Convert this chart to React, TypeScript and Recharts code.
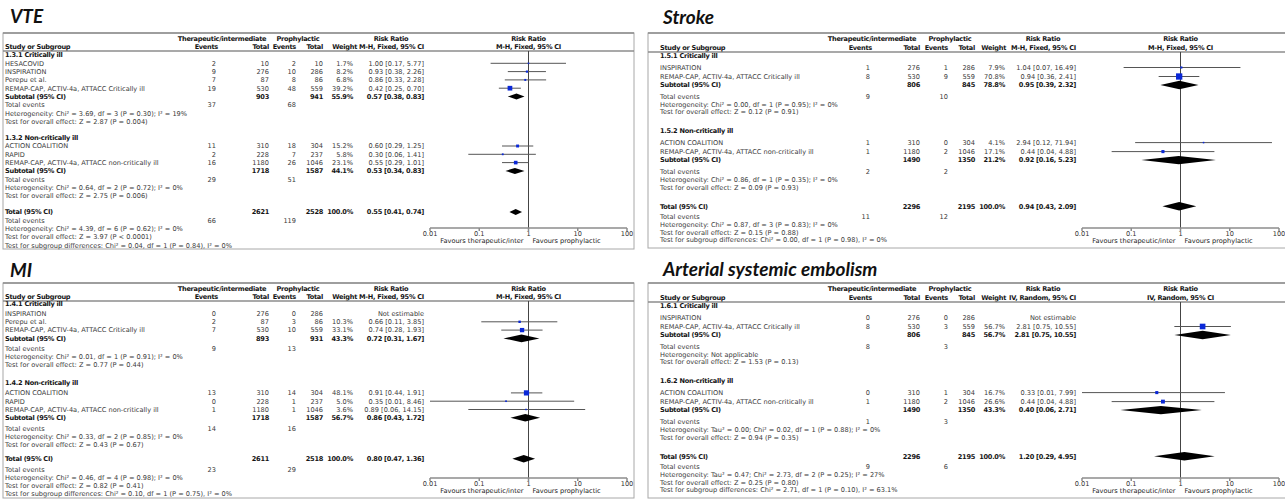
import { ScatterChart, Scatter, XAxis, YAxis, ErrorBar, ReferenceLine } from "recharts";

type Study = {
  name: string;
  e1: number;
  n1: number;
  e2: number;
  n2: number;
  weight: number | null;
  rr: number | null;
  lo: number | null;
  hi: number | null;
};
type Pooled = { n1: number; n2: number; weight: number; rr: number; lo: number; hi: number };

const FONT = "'DejaVu Sans', sans-serif";
const TITLE_FONT = "Lato, 'Open Sans', sans-serif";
const BLUE = "#0a28d8";
const TICKS = [0.01, 0.1, 1, 10, 100];

// ---- VTE ----
const VTE_GROUPS = ["1.3.1 Critically ill", "1.3.2 Non-critically ill"];
const VTE_CRIT: Study[] = [
  { name: "HESACOVID", e1: 2, n1: 10, e2: 2, n2: 10, weight: 1.7, rr: 1.0, lo: 0.17, hi: 5.77 },
  { name: "INSPIRATION", e1: 9, n1: 276, e2: 10, n2: 286, weight: 8.2, rr: 0.93, lo: 0.38, hi: 2.26 },
  { name: "Perepu et al.", e1: 7, n1: 87, e2: 8, n2: 86, weight: 6.8, rr: 0.86, lo: 0.33, hi: 2.28 },
  { name: "REMAP-CAP, ACTIV-4a, ATTACC Critically ill", e1: 19, n1: 530, e2: 48, n2: 559, weight: 39.2, rr: 0.42, lo: 0.25, hi: 0.7 },
];
const VTE_NONCRIT: Study[] = [
  { name: "ACTION COALITION", e1: 11, n1: 310, e2: 18, n2: 304, weight: 15.2, rr: 0.6, lo: 0.29, hi: 1.25 },
  { name: "RAPID", e1: 2, n1: 228, e2: 7, n2: 237, weight: 5.8, rr: 0.3, lo: 0.06, hi: 1.41 },
  { name: "REMAP-CAP, ACTIV-4a, ATTACC non-critically ill", e1: 16, n1: 1180, e2: 26, n2: 1046, weight: 23.1, rr: 0.55, lo: 0.29, hi: 1.01 },
];
const VTE_SUBS: Pooled[] = [
  { n1: 903, n2: 941, weight: 55.9, rr: 0.57, lo: 0.38, hi: 0.83 },
  { n1: 1718, n2: 1587, weight: 44.1, rr: 0.53, lo: 0.34, hi: 0.83 },
];
const VTE_TOTAL: Pooled = { n1: 2621, n2: 2528, weight: 100, rr: 0.55, lo: 0.41, hi: 0.74 };
const VTE_EVENTS = [[37, 68], [29, 51], [66, 119]];
const VTE_HET = [
  "Heterogeneity: Chi² = 3.69, df = 3 (P = 0.30); I² = 19%",
  "Heterogeneity: Chi² = 0.64, df = 2 (P = 0.72); I² = 0%",
  "Heterogeneity: Chi² = 4.39, df = 6 (P = 0.62); I² = 0%",
];
const VTE_TESTS = [
  "Test for overall effect: Z = 2.87 (P = 0.004)",
  "Test for overall effect: Z = 2.75 (P = 0.006)",
  "Test for overall effect: Z = 3.97 (P < 0.0001)",
];
const VTE_SUBGROUP = "Test for subgroup differences: Chi² = 0.04, df = 1 (P = 0.84), I² = 0%";

// ---- Stroke ----
const STROKE_GROUPS = ["1.5.1 Critically ill", "1.5.2 Non-critically ill"];
const STROKE_CRIT: Study[] = [
  { name: "INSPIRATION", e1: 1, n1: 276, e2: 1, n2: 286, weight: 7.9, rr: 1.04, lo: 0.07, hi: 16.49 },
  { name: "REMAP-CAP, ACTIV-4a, ATTACC Critically ill", e1: 8, n1: 530, e2: 9, n2: 559, weight: 70.8, rr: 0.94, lo: 0.36, hi: 2.41 },
];
const STROKE_NONCRIT: Study[] = [
  { name: "ACTION COALITION", e1: 1, n1: 310, e2: 0, n2: 304, weight: 4.1, rr: 2.94, lo: 0.12, hi: 71.94 },
  { name: "REMAP-CAP, ACTIV-4a, ATTACC non-critically ill", e1: 1, n1: 1180, e2: 2, n2: 1046, weight: 17.1, rr: 0.44, lo: 0.04, hi: 4.88 },
];
const STROKE_SUBS: Pooled[] = [
  { n1: 806, n2: 845, weight: 78.8, rr: 0.95, lo: 0.39, hi: 2.32 },
  { n1: 1490, n2: 1350, weight: 21.2, rr: 0.92, lo: 0.16, hi: 5.23 },
];
const STROKE_TOTAL: Pooled = { n1: 2296, n2: 2195, weight: 100, rr: 0.94, lo: 0.43, hi: 2.09 };
const STROKE_EVENTS = [[9, 10], [2, 2], [11, 12]];
const STROKE_HET = [
  "Heterogeneity: Chi² = 0.00, df = 1 (P = 0.95); I² = 0%",
  "Heterogeneity: Chi² = 0.86, df = 1 (P = 0.35); I² = 0%",
  "Heterogeneity: Chi² = 0.87, df = 3 (P = 0.83); I² = 0%",
];
const STROKE_TESTS = [
  "Test for overall effect: Z = 0.12 (P = 0.91)",
  "Test for overall effect: Z = 0.09 (P = 0.93)",
  "Test for overall effect: Z = 0.15 (P = 0.88)",
];
const STROKE_SUBGROUP = "Test for subgroup differences: Chi² = 0.00, df = 1 (P = 0.98), I² = 0%";

// ---- MI ----
const MI_GROUPS = ["1.4.1 Critically ill", "1.4.2 Non-critically ill"];
const MI_CRIT: Study[] = [
  { name: "INSPIRATION", e1: 0, n1: 276, e2: 0, n2: 286, weight: null, rr: null, lo: null, hi: null },
  { name: "Perepu et al.", e1: 2, n1: 87, e2: 3, n2: 86, weight: 10.3, rr: 0.66, lo: 0.11, hi: 3.85 },
  { name: "REMAP-CAP, ACTIV-4a, ATTACC Critically ill", e1: 7, n1: 530, e2: 10, n2: 559, weight: 33.1, rr: 0.74, lo: 0.28, hi: 1.93 },
];
const MI_NONCRIT: Study[] = [
  { name: "ACTION COALITION", e1: 13, n1: 310, e2: 14, n2: 304, weight: 48.1, rr: 0.91, lo: 0.44, hi: 1.91 },
  { name: "RAPID", e1: 0, n1: 228, e2: 1, n2: 237, weight: 5.0, rr: 0.35, lo: 0.01, hi: 8.46 },
  { name: "REMAP-CAP, ACTIV-4a, ATTACC non-critically ill", e1: 1, n1: 1180, e2: 1, n2: 1046, weight: 3.6, rr: 0.89, lo: 0.06, hi: 14.15 },
];
const MI_SUBS: Pooled[] = [
  { n1: 893, n2: 931, weight: 43.3, rr: 0.72, lo: 0.31, hi: 1.67 },
  { n1: 1718, n2: 1587, weight: 56.7, rr: 0.86, lo: 0.43, hi: 1.72 },
];
const MI_TOTAL: Pooled = { n1: 2611, n2: 2518, weight: 100, rr: 0.8, lo: 0.47, hi: 1.36 };
const MI_EVENTS = [[9, 13], [14, 16], [23, 29]];
const MI_HET = [
  "Heterogeneity: Chi² = 0.01, df = 1 (P = 0.91); I² = 0%",
  "Heterogeneity: Chi² = 0.33, df = 2 (P = 0.85); I² = 0%",
  "Heterogeneity: Chi² = 0.46, df = 4 (P = 0.98); I² = 0%",
];
const MI_TESTS = [
  "Test for overall effect: Z = 0.77 (P = 0.44)",
  "Test for overall effect: Z = 0.43 (P = 0.67)",
  "Test for overall effect: Z = 0.82 (P = 0.41)",
];
const MI_SUBGROUP = "Test for subgroup differences: Chi² = 0.10, df = 1 (P = 0.75), I² = 0%";

// ---- Arterial systemic embolism ----
const ASE_GROUPS = ["1.6.1 Critically ill", "1.6.2 Non-critically ill"];
const ASE_CRIT: Study[] = [
  { name: "INSPIRATION", e1: 0, n1: 276, e2: 0, n2: 286, weight: null, rr: null, lo: null, hi: null },
  { name: "REMAP-CAP, ACTIV-4a, ATTACC Critically ill", e1: 8, n1: 530, e2: 3, n2: 559, weight: 56.7, rr: 2.81, lo: 0.75, hi: 10.55 },
];
const ASE_NONCRIT: Study[] = [
  { name: "ACTION COALITION", e1: 0, n1: 310, e2: 1, n2: 304, weight: 16.7, rr: 0.33, lo: 0.01, hi: 7.99 },
  { name: "REMAP-CAP, ACTIV-4a, ATTACC non-critically ill", e1: 1, n1: 1180, e2: 2, n2: 1046, weight: 26.6, rr: 0.44, lo: 0.04, hi: 4.88 },
];
const ASE_SUBS: Pooled[] = [
  { n1: 806, n2: 845, weight: 56.7, rr: 2.81, lo: 0.75, hi: 10.55 },
  { n1: 1490, n2: 1350, weight: 43.3, rr: 0.4, lo: 0.06, hi: 2.71 },
];
const ASE_TOTAL: Pooled = { n1: 2296, n2: 2195, weight: 100, rr: 1.2, lo: 0.29, hi: 4.95 };
const ASE_EVENTS = [[8, 3], [1, 3], [9, 6]];
const ASE_HET = [
  "Heterogeneity: Not applicable",
  "Heterogeneity: Tau² = 0.00; Chi² = 0.02, df = 1 (P = 0.88); I² = 0%",
  "Heterogeneity: Tau² = 0.47; Chi² = 2.73, df = 2 (P = 0.25); I² = 27%",
];
const ASE_TESTS = [
  "Test for overall effect: Z = 1.53 (P = 0.13)",
  "Test for overall effect: Z = 0.94 (P = 0.35)",
  "Test for overall effect: Z = 0.25 (P = 0.80)",
];
const ASE_SUBGROUP = "Test for subgroup differences: Chi² = 2.71, df = 1 (P = 0.10), I² = 63.1%";

type PanelData = {
  title: string;
  method: string;
  groups: string[];
  studies: Study[][];
  subs: Pooled[];
  total: Pooled;
  events: number[][];
  het: string[];
  tests: string[];
  subgroup: string;
};

const VTE: PanelData = { title: "VTE", method: "M-H, Fixed, 95% CI", groups: VTE_GROUPS, studies: [VTE_CRIT, VTE_NONCRIT], subs: VTE_SUBS, total: VTE_TOTAL, events: VTE_EVENTS, het: VTE_HET, tests: VTE_TESTS, subgroup: VTE_SUBGROUP };
const STROKE: PanelData = { title: "Stroke", method: "M-H, Fixed, 95% CI", groups: STROKE_GROUPS, studies: [STROKE_CRIT, STROKE_NONCRIT], subs: STROKE_SUBS, total: STROKE_TOTAL, events: STROKE_EVENTS, het: STROKE_HET, tests: STROKE_TESTS, subgroup: STROKE_SUBGROUP };
const MI: PanelData = { title: "MI", method: "M-H, Fixed, 95% CI", groups: MI_GROUPS, studies: [MI_CRIT, MI_NONCRIT], subs: MI_SUBS, total: MI_TOTAL, events: MI_EVENTS, het: MI_HET, tests: MI_TESTS, subgroup: MI_SUBGROUP };
const ASE: PanelData = { title: "Arterial systemic embolism", method: "IV, Random, 95% CI", groups: ASE_GROUPS, studies: [ASE_CRIT, ASE_NONCRIT], subs: ASE_SUBS, total: ASE_TOTAL, events: ASE_EVENTS, het: ASE_HET, tests: ASE_TESTS, subgroup: ASE_SUBGROUP };

// layout
const COLS_A = { name: 5, e1: 216, n1: 269, e2: 296, n2: 323, w: 353, rr: 424, hE1: 218, hE2: 296, hW: 357, rrC: 391, therC: 222, prophC: 298, plotL: 430, plotR: 627 };
const COLS_B = { name: 15, e1: 225, n1: 275, e2: 303, n2: 330, w: 360, rr: 431, hE1: 227, hE2: 303, hW: 361, rrC: 398, therC: 227, prophC: 305, plotL: 437, plotR: 634 };

const GAPS_VTE = { start: 55, labelStudy: 8.3, pitch: 8.3, studySub: 8.3, subTe: 8.5, totTe: 8.5, text: 8.2, blank: 16.3, blank2: 16.3 };
const GAPS_MI = { start: 53.5, labelStudy: 10, pitch: 8.3, studySub: 8.3, subTe: 10.5, totTe: 10.5, text: 8, blank: 18, blank2: 14.5 };
const GAPS_B = { start: 56, labelStudy: 11.5, pitch: 9, studySub: 8.5, subTe: 11.5, totTe: 10.5, text: 7.8, blank: 19, blank2: 19 };

const FRAME_VTE = { top: 33, sep: 51, bottom: 249, left: 3, right: 634, head1: 38.5, head2: 46.5, titleX: 10, titleBase: 23, dh: 3 };
const FRAME_MI = { top: 33, sep: 51, bottom: 248, left: 3, right: 634, head1: 39, head2: 47, titleX: 10, titleBase: 27, dh: 3.8 };
const FRAME_STROKE = { top: 33, sep: 52, bottom: 248, left: 3, right: 720, head1: 39, head2: 48, titleX: 18, titleBase: 24, dh: 4.2 };
const FRAME_ASE = { ...FRAME_STROKE, titleBase: 26 };
const AXIS_Y = 228;

type Kind = "label" | "study" | "sub" | "te" | "text" | "total";
type Row = { kind: Kind; y: number; text?: string; study?: Study; pooled?: Pooled; events?: number[] };

function buildRows(p: PanelData, g: typeof GAPS_VTE): Row[] {
  const rows: Row[] = [];
  let y = g.start;
  let prev: Kind | null = null;
  const push = (kind: Kind, extra: Partial<Row>) => {
    if (prev) {
      if (kind === "study") y += prev === "label" ? g.labelStudy : g.pitch;
      else if (kind === "sub") y += g.studySub;
      else if (kind === "te") y += prev === "total" ? g.totTe : g.subTe;
      else if (kind === "text") y += g.text;
      else if (kind === "label") y += g.blank;
      else if (kind === "total") y += g.blank2;
    }
    rows.push({ kind, y, ...extra });
    prev = kind;
  };
  p.groups.forEach((label, gi) => {
    push("label", { text: label });
    p.studies[gi].forEach((s) => push("study", { study: s }));
    push("sub", { pooled: p.subs[gi] });
    push("te", { events: p.events[gi] });
    push("text", { text: p.het[gi] });
    push("text", { text: p.tests[gi] });
  });
  push("total", { pooled: p.total });
  push("te", { events: p.events[2] });
  push("text", { text: p.het[2] });
  push("text", { text: p.tests[2] });
  push("text", { text: p.subgroup });
  return rows;
}

const fmtW = (w: number) => `${w.toFixed(1)}%`;
const fmtRR = (r: number, lo: number, hi: number) => `${r.toFixed(2)} [${lo.toFixed(2)}, ${hi.toFixed(2)}]`;

function T({ x, y, anchor = "start", bold = false, children }: { x: number; y: number; anchor?: "start" | "middle" | "end"; bold?: boolean; children: any }) {
  return (
    <text
      x={x}
      y={y + 2.3}
      textAnchor={anchor}
      fontFamily={FONT}
      fontSize={6.6}
      fontWeight={bold ? 700 : 400}
      letterSpacing={bold ? -0.28 : 0}
      fill={bold ? "#151515" : "#3a3a3a"}
    >
      {children}
    </text>
  );
}

const Square = (p: any) => {
  const s = Math.max(1.5, 0.75 * Math.sqrt(p.payload.w));
  return <rect x={p.cx - s / 2} y={p.cy - s / 2} width={s} height={s} fill={BLUE} />;
};
const Nothing = () => <g />;
const diamondLine = (p: any) => (
  <polygon points={(p.points || []).map((q: any) => `${q.x},${q.y}`).join(" ")} fill="#000" stroke="none" />
);
const favours = (p: any) => {
  const vb = p.viewBox;
  if (!vb) return <g />;
  const y = vb.y + vb.height + 14.5;
  return (
    <g fontFamily={FONT} fontSize={6.6} fill="#222">
      <text x={vb.x - 5} y={y} textAnchor="end">Favours therapeutic/inter</text>
      <text x={vb.x + 4} y={y} textAnchor="start">Favours prophylactic</text>
    </g>
  );
};

function Panel({ data, cols, gaps, frame, ox, oy, w }: { data: PanelData; cols: typeof COLS_A; gaps: typeof GAPS_VTE; frame: typeof FRAME_VTE; ox: number; oy: number; w: number }) {
  const rows = buildRows(data, gaps);
  const c = cols;
  const plotH = AXIS_Y - frame.sep;
  const ML = 20;
  const studyPts = rows
    .filter((r) => r.kind === "study" && r.study!.rr != null)
    .map((r) => {
      const s = r.study!;
      return { x: s.rr!, y: r.y - frame.sep, w: s.weight!, err: [s.rr! - s.lo!, s.hi! - s.rr!] };
    });
  const diamonds = rows
    .filter((r) => r.kind === "sub" || r.kind === "total")
    .map((r) => {
      const q = r.pooled!;
      const yy = r.y - frame.sep;
      return [
        { x: q.lo, y: yy },
        { x: q.rr, y: yy - frame.dh },
        { x: q.hi, y: yy },
        { x: q.rr, y: yy + frame.dh },
      ];
    });

  return (
    <div style={{ position: "absolute", left: ox, top: oy, width: w, height: 250, overflow: "hidden" }}>
      <svg width={w} height={250} style={{ position: "absolute", left: 0, top: 0 }}>
        <text x={frame.titleX} y={frame.titleBase} fontFamily={TITLE_FONT} fontSize={19} fontWeight={700} fontStyle="italic" fill="#111">
          {data.title}
        </text>
        <rect x={frame.left} y={frame.top} width={frame.right - frame.left} height={frame.bottom - frame.top} fill="none" stroke="#a8a8a8" strokeWidth={1} />
        <line x1={frame.left} x2={frame.right} y1={frame.top} y2={frame.top} stroke="#8c8c8c" strokeWidth={1.5} />
        <line x1={frame.left} x2={frame.right} y1={frame.sep} y2={frame.sep} stroke="#8c8c8c" strokeWidth={1.5} />

        <T x={c.therC} y={frame.head1} anchor="middle" bold>Therapeutic/intermediate</T>
        <T x={c.prophC} y={frame.head1} anchor="middle" bold>Prophylactic</T>
        <T x={c.rrC} y={frame.head1} anchor="middle" bold>Risk Ratio</T>
        <T x={(c.plotL + c.plotR) / 2} y={frame.head1} anchor="middle" bold>Risk Ratio</T>
        <T x={c.name} y={frame.head2} bold>Study or Subgroup</T>
        <T x={c.hE1} y={frame.head2} anchor="end" bold>Events</T>
        <T x={c.n1} y={frame.head2} anchor="end" bold>Total</T>
        <T x={c.hE2} y={frame.head2} anchor="end" bold>Events</T>
        <T x={c.n2} y={frame.head2} anchor="end" bold>Total</T>
        <T x={c.hW} y={frame.head2} anchor="end" bold>Weight</T>
        <T x={c.rr} y={frame.head2} anchor="end" bold>{data.method}</T>
        <T x={(c.plotL + c.plotR) / 2} y={frame.head2} anchor="middle" bold>{data.method}</T>

        {rows.map((r, i) => {
          if (r.kind === "label") return <T key={i} x={c.name} y={r.y} bold>{r.text}</T>;
          if (r.kind === "text") return <T key={i} x={c.name} y={r.y}>{r.text}</T>;
          if (r.kind === "te")
            return (
              <g key={i}>
                <T x={c.name} y={r.y}>Total events</T>
                <T x={c.e1} y={r.y} anchor="end">{r.events![0]}</T>
                <T x={c.e2} y={r.y} anchor="end">{r.events![1]}</T>
              </g>
            );
          if (r.kind === "study") {
            const s = r.study!;
            return (
              <g key={i}>
                <T x={c.name} y={r.y}>{s.name}</T>
                <T x={c.e1} y={r.y} anchor="end">{s.e1}</T>
                <T x={c.n1} y={r.y} anchor="end">{s.n1}</T>
                <T x={c.e2} y={r.y} anchor="end">{s.e2}</T>
                <T x={c.n2} y={r.y} anchor="end">{s.n2}</T>
                {s.weight != null && <T x={c.w} y={r.y} anchor="end">{fmtW(s.weight)}</T>}
                <T x={c.rr} y={r.y} anchor="end">{s.rr != null ? fmtRR(s.rr, s.lo!, s.hi!) : "Not estimable"}</T>
              </g>
            );
          }
          const q = r.pooled!;
          return (
            <g key={i}>
              <T x={c.name} y={r.y} bold>{r.kind === "sub" ? "Subtotal (95% CI)" : "Total (95% CI)"}</T>
              <T x={c.n1} y={r.y} anchor="end" bold>{q.n1}</T>
              <T x={c.n2} y={r.y} anchor="end" bold>{q.n2}</T>
              <T x={c.w} y={r.y} anchor="end" bold>{fmtW(q.weight)}</T>
              <T x={c.rr} y={r.y} anchor="end" bold>{fmtRR(q.rr, q.lo, q.hi)}</T>
            </g>
          );
        })}
      </svg>

      <div style={{ position: "absolute", left: c.plotL - ML, top: frame.sep }}>
        <ScatterChart width={c.plotR - c.plotL + 2 * ML} height={plotH + 20} margin={{ top: 0, right: ML, bottom: 0, left: ML }}>
          <XAxis
            type="number"
            dataKey="x"
            scale="log"
            domain={[0.01, 100]}
            ticks={TICKS}
            allowDataOverflow
            height={20}
            tickSize={3}
            tickMargin={0}
            interval={0}
            stroke="#8c8c8c"
            strokeWidth={1.5}
            tick={{ fontSize: 6.6, fill: "#333", fontFamily: FONT }}
            tickFormatter={(v: number) => String(v)}
          />
          <YAxis type="number" dataKey="y" domain={[0, plotH]} reversed hide width={0} allowDataOverflow />
          <ReferenceLine x={1} stroke="#444" strokeWidth={1} label={favours} />
          <Scatter data={studyPts} shape={Square} isAnimationActive={false}>
            <ErrorBar dataKey="err" direction="x" width={0} stroke="#555" strokeWidth={1} isAnimationActive={false} />
          </Scatter>
          {diamonds.map((d, i) => (
            <Scatter key={i} data={d} shape={Nothing} line={diamondLine} lineType="joint" isAnimationActive={false} />
          ))}
        </ScatterChart>
      </div>
    </div>
  );
}

export default function App() {
  return (
    <div style={{ position: "absolute", left: 0, top: 0, width: 1285, height: 499, background: "#fff", overflow: "hidden" }}>
      <Panel data={VTE} cols={COLS_A} gaps={GAPS_VTE} frame={FRAME_VTE} ox={0} oy={0} w={645} />
      <Panel data={STROKE} cols={COLS_B} gaps={GAPS_B} frame={FRAME_STROKE} ox={645} oy={0} w={640} />
      <Panel data={MI} cols={COLS_A} gaps={GAPS_MI} frame={FRAME_MI} ox={0} oy={250} w={645} />
      <Panel data={ASE} cols={COLS_B} gaps={GAPS_B} frame={FRAME_ASE} ox={645} oy={250} w={640} />
    </div>
  );
}
